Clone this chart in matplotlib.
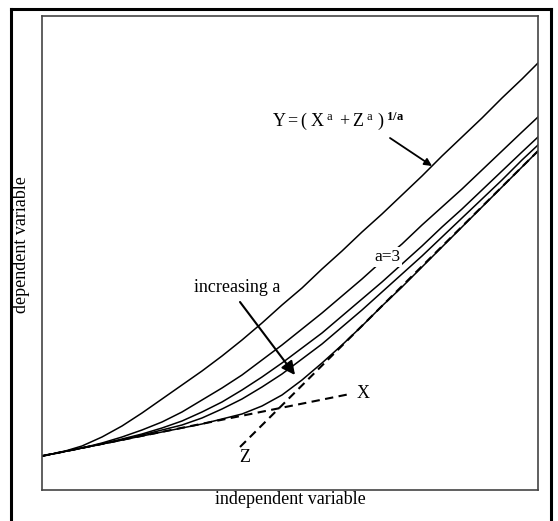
import numpy as np
import matplotlib
matplotlib.use('Agg')
import matplotlib.pyplot as plt
from matplotlib.lines import Line2D

plt.rcParams['font.family'] = ['Liberation Serif', 'DejaVu Serif']
plt.rcParams['mathtext.fontset'] = 'custom'
plt.rcParams['mathtext.rm'] = 'Liberation Serif'
plt.rcParams['mathtext.it'] = 'Liberation Serif:italic'
plt.rcParams['mathtext.bf'] = 'Liberation Serif:bold'

# independent variable (arbitrary units)
x_vals = [0, 20, 40, 60, 80, 100, 120, 140, 160, 180, 200, 220, 240,
          260, 280, 300, 320, 340, 360, 380, 400, 420, 440, 460, 480, 496]

# Y = (X^a + Z^a)^(1/a) curves, from lowest a (top) to highest a (bottom)
y_curve1 = [34, 38, 44, 53, 64, 77, 91, 105, 119, 134, 150, 167, 185,
            202, 221, 239, 258, 276, 295, 314, 334, 353, 372, 392, 411, 427]
y_curve2 = [34, 38, 42, 47, 53, 60, 68, 78, 90, 102, 115, 130, 145,
            161, 177, 194, 211, 229, 246, 265, 283, 301, 320, 339, 358, 373]
y_curve3 = [34, 38, 42, 46, 51, 56, 62, 69, 78, 88, 100, 113, 127,
            142, 157, 174, 191, 208, 226, 244, 263, 281, 300, 319, 338, 353]
y_curve4 = [34, 38, 42, 46, 50, 55, 60, 65, 72, 81, 91, 103, 116,
            131, 146, 163, 180, 198, 216, 234, 253, 272, 291, 310, 330, 345]
y_curve5 = [34, 38, 42, 46, 50, 54, 58, 62, 66, 71, 76, 84, 95,
            110, 127, 145, 164, 184, 203, 223, 243, 263, 283, 303, 323, 339]

# component lines (dashed)
x_line_x = [0, 308]
x_line_y = [34, 96]
z_line_x = [198, 496]
z_line_y = [43, 339]

W, H = 558, 521
fig = plt.figure(figsize=(W / 100, H / 100), dpi=100)

# outer frame (left, top, right)
frame_kw = dict(color='black', lw=2.2, solid_capstyle='projecting')
fig.add_artist(Line2D([11 / W, 11 / W], [0, 1 - 9 / H], **frame_kw))
fig.add_artist(Line2D([11 / W, 551 / W], [1 - 9 / H, 1 - 9 / H], **frame_kw))
fig.add_artist(Line2D([551 / W, 551 / W], [0, 1 - 9 / H], **frame_kw))

ax = fig.add_axes([42 / W, (H - 490) / H, 496 / W, 474 / H])
ax.set_xlim(0, 496)
ax.set_ylim(0, 474)

for yc in (y_curve1, y_curve2, y_curve3, y_curve4, y_curve5):
    ax.plot(x_vals, yc, color='black', lw=1.1, solid_joinstyle='round')

dash = (0, (4, 2.6))
ax.plot(x_line_x, x_line_y, color='black', lw=1.5, ls=dash)
ax.plot(z_line_x, z_line_y, color='black', lw=1.5, ls=dash)

ax.set_xticks([])
ax.set_yticks([])
for s in ax.spines.values():
    s.set_color('#444444')
    s.set_linewidth(1.2)

# labels
ax.text(296, 369,
        r'$\mathrm{Y = (\ X^{\ a}\ + Z^{\ a}\ )^{\ \mathbf{1/a}}}$',
        fontsize=13, ha='center', va='center')
ax.annotate('', xy=(390, 324), xytext=(348, 352),
            arrowprops=dict(arrowstyle='-|>', color='black', lw=1.3,
                            mutation_scale=11, shrinkA=0, shrinkB=0))

ax.text(195, 203, 'increasing a', fontsize=13, ha='center', va='center')
ax.annotate('', xy=(253, 115), xytext=(198, 188),
            arrowprops=dict(arrowstyle='-|>', color='black', lw=1.5,
                            mutation_scale=20, shrinkA=0, shrinkB=0))

ax.text(345, 233, 'a=3', fontsize=12.5, ha='center', va='center',
        bbox=dict(boxstyle='square,pad=0.1', fc='white', ec='none'))
ax.text(321, 97, 'X', fontsize=13, ha='center', va='center')
ax.text(203, 33, 'Z', fontsize=13, ha='center', va='center')

fig.text(290 / W, 1 - 500 / H, 'independent variable', fontsize=13,
         ha='center', va='center')
fig.text(22 / W, 1 - 245 / H, 'dependent variable', fontsize=13,
         ha='center', va='center', rotation=90)

fig.savefig('out.png', dpi=100)
